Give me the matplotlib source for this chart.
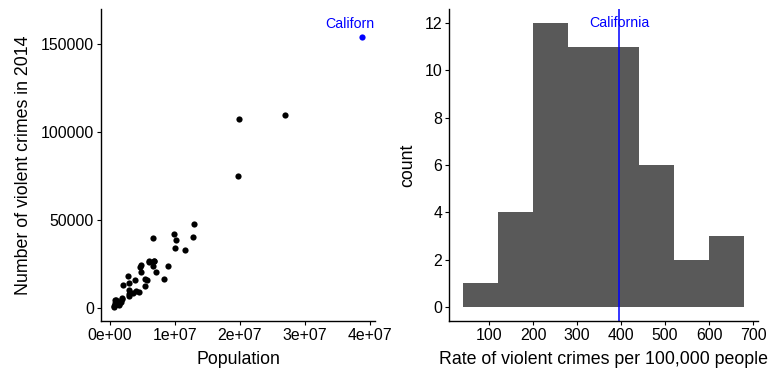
import matplotlib
matplotlib.use('Agg')
import matplotlib.pyplot as plt

plt.rcParams['font.family'] = ['Liberation Sans', 'DejaVu Sans']

# population and violent crimes (2014), one entry per state
population = [0.58e6, 0.63e6, 0.74e6, 0.74e6, 0.85e6, 0.94e6, 1.02e6, 1.06e6, 1.33e6, 1.33e6,
              1.42e6, 1.63e6, 1.88e6, 1.85e6, 2.08e6, 2.84e6, 2.94e6, 2.90e6, 2.97e6, 2.99e6,
              3.11e6, 3.60e6, 3.88e6, 3.97e6, 4.41e6, 4.65e6, 4.85e6, 4.83e6, 5.36e6, 5.46e6,
              5.76e6, 5.98e6, 6.06e6, 6.75e6, 6.60e6, 6.55e6, 6.73e6, 7.06e6, 8.33e6, 8.94e6,
              9.94e6, 9.91e6, 10.10e6, 11.59e6, 12.79e6, 12.88e6, 19.89e6, 19.75e6, 26.96e6]
crimes = [1100, 600, 4700, 1700, 3000, 4500, 3300, 2300, 2300, 1700,
          3600, 3400, 5300, 5600, 12900, 17900, 6800, 10200, 14200, 8200,
          8600, 8300, 15800, 9600, 9300, 23200, 20700, 24200, 16600, 12400,
          16100, 26700, 26300, 26900, 24000, 39900, 26900, 20200, 16400, 23600,
          33900, 42200, 38400, 33000, 40200, 47800, 107600, 75200, 109600]
ca_population = 38.8e6
ca_crimes = 153700
ca_rate = 396

# histogram of rate per 100,000 people
bin_edges = [40, 120, 200, 280, 360, 440, 520, 600, 680]
bin_counts = [1, 4, 12, 11, 11, 6, 2, 3]

fig = plt.figure(figsize=(7.68, 3.84), dpi=100)
ax1 = fig.add_axes([101/768, 1-321/384, (375-101)/768, 312/384])
ax2 = fig.add_axes([449/768, 1-321/384, (758-449)/768, 312/384])

tick_fs = 11.4
title_fs = 12.8

# scatter
ax1.scatter(population, crimes, s=20, color='black', linewidths=0)
ax1.scatter([ca_population], [ca_crimes], s=20, color='blue', linewidths=0)
ax1.text(3.77e7, 161500, 'California', color='blue', fontsize=10.2,
         ha='center', va='center', clip_on=True)
ax1.set_xlim(-0.138e7, 4.077e7)
ax1.set_ylim(-7386, 169886)
ax1.set_xticks([0, 1e7, 2e7, 3e7, 4e7])
ax1.set_xticklabels(['0e+00', '1e+07', '2e+07', '3e+07', '4e+07'])
ax1.set_yticks([0, 50000, 100000, 150000])
ax1.set_yticklabels(['0', '50000', '100000', '150000'])
ax1.set_xlabel('Population', fontsize=title_fs, labelpad=6)
ax1.set_ylabel('Number of violent crimes in 2014', fontsize=title_fs, labelpad=6)

# histogram
ax2.stairs(bin_counts, bin_edges, fill=True, color='#595959')
ax2.axvline(ca_rate, color='blue', linewidth=1.1)
ax2.text(ca_rate, 12, 'California', color='blue', fontsize=10.2,
         ha='center', va='center')
ax2.set_xlim(9.1, 711)
ax2.set_ylim(-0.59, 12.59)
ax2.set_xticks([100, 200, 300, 400, 500, 600, 700])
ax2.set_yticks([0, 2, 4, 6, 8, 10, 12])
ax2.set_xlabel('Rate of violent crimes per 100,000 people', fontsize=title_fs, labelpad=6)
ax2.set_ylabel('count', fontsize=title_fs, labelpad=6)

for ax in (ax1, ax2):
    ax.spines['top'].set_visible(False)
    ax.spines['right'].set_visible(False)
    ax.spines['left'].set_linewidth(1.0)
    ax.spines['bottom'].set_linewidth(1.0)
    ax.tick_params(labelsize=tick_fs, length=3, width=0.8, pad=2, colors='black')

fig.savefig('out.png', dpi=100)
